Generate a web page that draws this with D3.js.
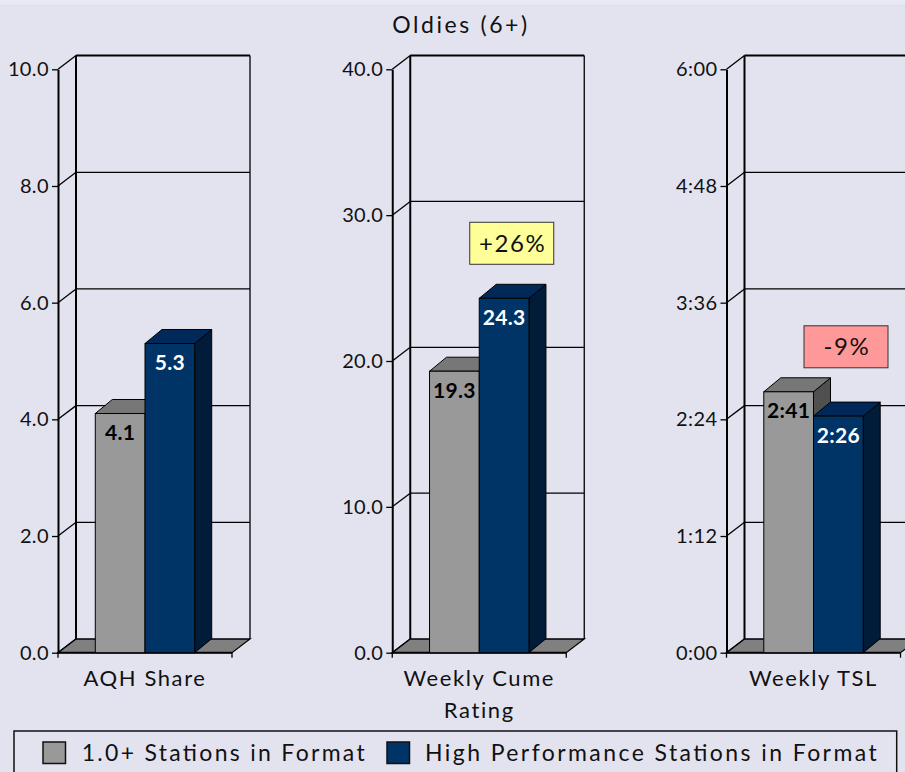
<!DOCTYPE html>
<html>
<head>
<meta charset="utf-8">
<script src="https://cdn.jsdelivr.net/npm/d3@7"></script>
<style>
  html, body { margin: 0; padding: 0; background: #E3E3F0; }
  svg { display: block; font-family: "Lato", "Noto Sans", sans-serif; }
</style>
</head>
<body>
<script>
// ---- data ----
const title = "Oldies (6+)";
const categories = ["AQH Share", "Weekly Cume Rating", "Weekly TSL"];
const series = ["1.0+ Stations in Format", "High Performance Stations in Format"];
const aqhShare = [4.1, 5.3];
const cumeRating = [19.3, 24.3];
const tslMinutes = [161, 146];          // 2:41 and 2:26
const aqhTicks = [0, 2, 4, 6, 8, 10];
const cumeTicks = [0, 10, 20, 30, 40];
const tslTicks = [0, 72, 144, 216, 288, 360]; // 0:00 ... 6:00
const changeLabels = [null, "+26%", "-9%"];

const fmtOne = d3.format(".1f");
const fmtTime = m => `${Math.floor(m / 60)}:${String(Math.round(m % 60)).padStart(2, "0")}`;

const panels = [
  { name: categories[0], values: aqhShare, ticks: aqhTicks, fmt: fmtOne, change: changeLabels[0] },
  { name: categories[1], values: cumeRating, ticks: cumeTicks, fmt: fmtOne, change: changeLabels[1], boxFill: "#FFFF99", boxGap: 34 },
  { name: categories[2], values: tslMinutes, ticks: tslTicks, fmt: fmtTime, change: changeLabels[2], boxFill: "#FF9999", boxGap: 24 }
];

const colors = {
  front: ["#999999", "#003366"],
  top:   ["#777777", "#00295A"],
  side:  ["#505050", "#001C38"],
  text:  ["#000000", "#FFFFFF"]
};

// ---- layout ----
const W = 905, H = 772;
const yFront0 = 652.7, yFrontTop = 69.3;
const floorW = 174;
const wall = { dx: 18, dy: -13.7 };
const depth = { dx: 17, dy: -14 };

const svg = d3.select("body").append("svg").attr("width", W).attr("height", H);

svg.append("rect").attr("width", W).attr("height", H).attr("fill", "#E3E3F0");
svg.append("rect").attr("width", W).attr("height", 5).attr("fill", "#E9E9F4");
svg.append("line").attr("x1", 0).attr("x2", W).attr("y1", 5.5).attr("y2", 5.5)
  .attr("stroke", "#DCE0F4").attr("stroke-width", 1.5);

svg.append("text").attr("x", 461).attr("y", 32.5).attr("text-anchor", "middle")
  .attr("font-size", 23).attr("letter-spacing", 2.6).attr("fill", "#111").text(title);

const panelX = d3.scaleBand().domain(categories).range([58, 58 + 3 * 334.25]);
const barX = d3.scaleBand().domain(series).range([0, floorW]).paddingInner(0).paddingOuter(0.75);

const poly = pts => "M" + pts.map(p => p.join(",")).join("L") + "Z";

panels.forEach(p => {
  const x0 = panelX(p.name);
  const y = d3.scaleLinear().domain([0, d3.max(p.ticks)]).range([yFront0, yFrontTop]);
  const g = svg.append("g");

  const bx0 = x0 + wall.dx, bx1 = x0 + floorW + wall.dx;
  // back wall gridlines and side-wall connectors
  p.ticks.forEach(t => {
    const yf = y(t), yb = yf + wall.dy;
    if (t > 0) {
      g.append("line").attr("x1", bx0).attr("x2", bx1).attr("y1", yb).attr("y2", yb)
        .attr("stroke", "#000").attr("stroke-width", t === d3.max(p.ticks) ? 2 : 1.3);
    }
    g.append("line").attr("x1", x0).attr("y1", yf).attr("x2", bx0).attr("y2", yb)
      .attr("stroke", "#000").attr("stroke-width", 1.3);
  });
  // back wall verticals
  [bx0, bx1].forEach(xx => {
    g.append("line").attr("x1", xx).attr("x2", xx)
      .attr("y1", y(d3.max(p.ticks)) + wall.dy).attr("y2", yFront0 + wall.dy)
      .attr("stroke", "#000").attr("stroke-width", xx === bx0 ? 2 : 1.3);
  });
  // floor
  g.append("path")
    .attr("d", poly([[x0, yFront0], [x0 + floorW, yFront0], [bx1, yFront0 + wall.dy], [bx0, yFront0 + wall.dy]]))
    .attr("fill", "#808080").attr("stroke", "#000").attr("stroke-width", 1.3);

  // value axis
  const axis = d3.axisLeft(y).tickValues(p.ticks).tickFormat(p.fmt).tickSize(6).tickSizeOuter(0);
  const ag = g.append("g").attr("transform", `translate(${x0},0)`).call(axis);
  ag.select(".domain").attr("stroke", "#000").attr("stroke-width", 2);
  ag.selectAll(".tick line").attr("stroke", "#000").attr("stroke-width", 1.3);
  ag.selectAll(".tick text").attr("font-size", 20).attr("fill", "#111")
    .attr("font-family", "Lato, sans-serif").attr("letter-spacing", 0.4).attr("x", -9);

  // category axis line and end ticks
  g.append("line").attr("x1", x0).attr("x2", x0 + floorW).attr("y1", yFront0).attr("y2", yFront0)
    .attr("stroke", "#000").attr("stroke-width", 2);
  [x0, x0 + floorW].forEach(xx => g.append("line").attr("x1", xx).attr("x2", xx)
    .attr("y1", yFront0).attr("y2", yFront0 + 5).attr("stroke", "#000").attr("stroke-width", 1.3));

  // bars
  p.values.forEach((v, i) => {
    const xl = x0 + barX(series[i]), xr = xl + barX.bandwidth(), yt = y(v);
    const bg = g.append("g");
    bg.append("path").attr("d", poly([[xr, yt], [xr + depth.dx, yt + depth.dy], [xr + depth.dx, yFront0 + depth.dy], [xr, yFront0]]))
      .attr("fill", colors.side[i]).attr("stroke", "#000").attr("stroke-width", 1);
    bg.append("path").attr("d", poly([[xl, yt], [xr, yt], [xr + depth.dx, yt + depth.dy], [xl + depth.dx, yt + depth.dy]]))
      .attr("fill", colors.top[i]).attr("stroke", "#000").attr("stroke-width", 1);
    bg.append("rect").attr("x", xl).attr("y", yt).attr("width", xr - xl).attr("height", yFront0 - yt)
      .attr("fill", colors.front[i]).attr("stroke", "#000").attr("stroke-width", 1);
    bg.append("text").attr("x", (xl + xr) / 2).attr("y", yt + 26.5).attr("text-anchor", "middle")
      .attr("font-size", 21).attr("font-weight", "bold").attr("letter-spacing", 0.3)
      .attr("fill", colors.text[i]).text(p.fmt(v));
  });

  // change callout
  if (p.change) {
    const top = y(d3.max(p.values));
    const bw = 84, bh = 42, cx = x0 + 119.5;
    const yb = top - p.boxGap;
    g.append("rect").attr("x", cx - bw / 2).attr("y", yb - bh).attr("width", bw).attr("height", bh)
      .attr("fill", p.boxFill).attr("stroke", "#333").attr("stroke-width", 1);
    g.append("text").attr("x", cx + 1).attr("y", yb - bh / 2 + 8.5).attr("text-anchor", "middle")
      .attr("font-size", 24).attr("letter-spacing", 1.6).attr("fill", "#111").text(p.change);
  }

  // category label with wrapping
  const lbl = g.append("text").attr("x", x0 + floorW / 2).attr("y", 686).attr("text-anchor", "middle")
    .attr("font-size", 22).attr("letter-spacing", 1.6).attr("fill", "#111");
  const words = p.name.split(" ");
  let line = [];
  let tspan = lbl.append("tspan").attr("x", x0 + floorW / 2).attr("dy", 0);
  words.forEach(w => {
    line.push(w);
    tspan.text(line.join(" "));
    if (tspan.node().getComputedTextLength() > floorW && line.length > 1) {
      line.pop();
      tspan.text(line.join(" "));
      line = [w];
      tspan = lbl.append("tspan").attr("x", x0 + floorW / 2).attr("dy", 32).text(w);
    }
  });
});

// legend
const lg = svg.append("g");
lg.append("rect").attr("x", 14).attr("y", 731).attr("width", 882.7).attr("height", 60)
  .attr("fill", "none").attr("stroke", "#111").attr("stroke-width", 1.5);
const legendItems = [
  { swatchX: 43, textX: 81.7, len: 283 },
  { swatchX: 387, textX: 425, len: 451.7 }
];
series.forEach((s, i) => {
  const it = legendItems[i];
  lg.append("rect").attr("x", it.swatchX).attr("y", 742).attr("width", 22.5).attr("height", 21.5)
    .attr("fill", colors.front[i]).attr("stroke", "#111").attr("stroke-width", 1.5);
  lg.append("text").attr("x", it.textX).attr("y", 760.5).attr("font-size", 23).attr("fill", "#111")
    .attr("textLength", it.len).attr("lengthAdjust", "spacing").text(s);
});
</script>
</body>
</html>
